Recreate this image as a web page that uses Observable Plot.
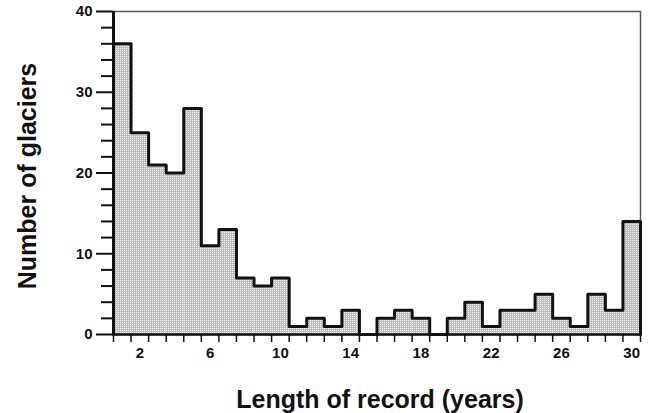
<!DOCTYPE html>
<html>
<head>
<meta charset="utf-8">
<script src="https://cdn.jsdelivr.net/npm/d3@7"></script>
<script src="https://cdn.jsdelivr.net/npm/@observablehq/plot@0.6"></script>
<style>
  html, body { margin: 0; padding: 0; background: #fff; }
</style>
</head>
<body>
<div id="chart"></div>
<script>
// Length of mass-balance record (years) and number of glaciers per year
const years = d3.range(1, 31);
const counts = [36, 25, 21, 20, 28, 11, 13, 7, 6, 7, 1, 2, 1, 3, 0,
                2, 3, 2, 0, 2, 4, 1, 3, 3, 5, 2, 1, 5, 3, 14];
const xLabels = [2, 6, 10, 14, 18, 22, 26, 30];
const yMajor = [0, 10, 20, 30, 40];
const yMinor = d3.range(2, 40, 2).filter(v => v % 10 !== 0);

const bars = years.map((year, i) => ({year, count: counts[i]}));

// Outer outline of the histogram as a stepped path
const outline = [{x: years[0] - 0.5, y: 0}]
  .concat(bars.map(d => ({x: d.year - 0.5, y: d.count})))
  .concat([{x: years[years.length - 1] + 0.5, y: counts[counts.length - 1]},
           {x: years[years.length - 1] + 0.5, y: 0}]);

const font = "'Liberation Sans', Arial, Helvetica, sans-serif";

const chart = Plot.plot({
  width: 654,
  height: 413,
  marginLeft: 113,
  marginRight: 14,
  marginTop: 11,
  marginBottom: 79,
  style: {fontFamily: font, background: "#fff", color: "#111"},
  x: {domain: [0.5, 30.5]},
  y: {domain: [0, 40]},
  marks: [
    Plot.frame({stroke: "#555", strokeWidth: 1.5}),
    Plot.rectY(bars, {x1: d => d.year - 0.5, x2: d => d.year + 0.5, y: "count", fill: "url(#stipple)"}),
    Plot.line(outline, {x: "x", y: "y", curve: "step-after", stroke: "#111", strokeWidth: 3}),
    Plot.ruleX([0.5], {stroke: "#111", strokeWidth: 3}),
    Plot.ruleY([0], {stroke: "#111", strokeWidth: 2.5}),
    Plot.axisY(yMajor, {tickSize: 17, tickPadding: 4, fontSize: 15, fontWeight: "bold", strokeWidth: 2, label: null}),
    Plot.axisY(yMinor, {tickSize: 12, tickFormat: () => "", strokeWidth: 2, label: null}),
    Plot.axisX(d3.range(0.5, 31, 1), {tickSize: 8, tickFormat: () => "", strokeWidth: 1.5, label: null}),
    Plot.axisX(xLabels, {tickSize: 0, tickPadding: 13, fontSize: 15, fontWeight: "bold", label: null}),
    Plot.text(["Number of glaciers"], {frameAnchor: "left", dx: -86, dy: 3, rotate: -90, textAnchor: "middle", lineAnchor: "middle", fontSize: 25, fontWeight: "bold", fill: "#111"}),
    Plot.text(["Length of record (years)"], {frameAnchor: "bottom", dx: 3, dy: 65, textAnchor: "middle", lineAnchor: "middle", fontSize: 25, fontWeight: "bold", fill: "#111"})
  ]
});

// Fine screen (gray grid with light cells) used to fill the bars
const ns = "http://www.w3.org/2000/svg";
const defs = document.createElementNS(ns, "defs");
const pattern = document.createElementNS(ns, "pattern");
pattern.setAttribute("id", "stipple");
pattern.setAttribute("width", "2");
pattern.setAttribute("height", "2");
pattern.setAttribute("patternUnits", "userSpaceOnUse");
const bg = document.createElementNS(ns, "rect");
bg.setAttribute("width", "2"); bg.setAttribute("height", "2"); bg.setAttribute("fill", "#bdbdbd");
const cell = document.createElementNS(ns, "rect");
cell.setAttribute("width", "1"); cell.setAttribute("height", "1"); cell.setAttribute("fill", "#f4f4f4");
pattern.appendChild(bg); pattern.appendChild(cell);
defs.appendChild(pattern);
chart.insertBefore(defs, chart.firstChild);

document.getElementById("chart").appendChild(chart);
</script>
</body>
</html>
